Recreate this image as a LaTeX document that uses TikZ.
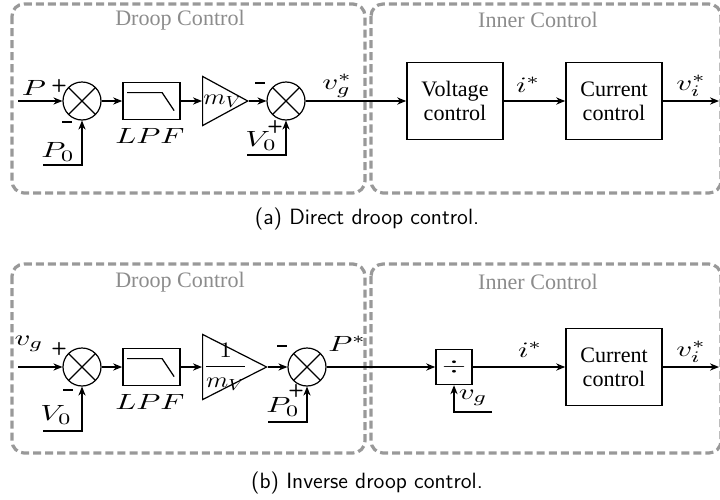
\documentclass[tikz,border=0pt]{standalone}
\usepackage{graphicx}
\usepackage[no-math]{fontspec}
\setmainfont{Liberation Serif}
\usetikzlibrary{shapes.geometric,arrows.meta}

\newcommand{\sgnminus}{\rule[0.32em]{0.5em}{0.13em}}
\newcommand{\wmath}[1]{\scalebox{1.4}[1.0]{$#1$}}
\newcommand{\gmath}[1]{\scalebox{1.15}[1.0]{$#1$}}

\tikzset{
  blk/.style={draw, thick, minimum width=1.68cm, minimum height=1.35cm, align=center, font=\fontsize{11}{12}\selectfont},
  lpf/.style={draw, thick, minimum width=1cm, minimum height=0.65cm},
  sumj/.style={draw, semithick, circle, minimum size=0.665cm, inner sep=0pt,
    path picture={\draw[semithick] (path picture bounding box.south west) -- (path picture bounding box.north east)
      (path picture bounding box.north west) -- (path picture bounding box.south east);}},
  gain/.style={draw, semithick, isosceles triangle, isosceles triangle stretches, inner sep=0pt, anchor=west},
  group/.style={draw=black!40, line width=1.6pt, dash pattern=on 4pt off 2pt, rounded corners=6pt},
  grouptitle/.style={text=black!45},
  sig/.style={semithick, -{Stealth[length=4.5pt,width=3.6pt]}},
  sgn/.style={font=\sffamily\bfseries\small, inner sep=0pt},
}

\begin{document}
\begin{tikzpicture}[x=0.0175cm, y=-0.0175cm, font=\fontsize{11}{13}\selectfont]
    \useasboundingbox (0,0) rectangle (720,499);

    % (a) direct droop
    \draw[group] (12,4) rectangle (365,193);
    \draw[group] (371,4) rectangle (721,193);
    \node[grouptitle] (ttlA1) at (180,20) {Droop Control};
    \node[grouptitle] (ttlA2) at (538,20) {Inner Control};

    \coordinate (inA) at (18,101);
    \node[sumj] (sumA) at (82,101) {};
    \draw[sig] (inA) -- (sumA);
    \node (lblP) at (34,88) {\wmath{P}};
    \node[sgn] (plusA1) at (59,86) {+};
    \node[sgn] (minA1) at (67,125) {\sgnminus};
    \coordinate (refA1) at (43,165);
    \draw[sig] (refA1) -| (sumA);
    \node (lblPA) at (58,152) {\wmath{P_0}};

    \node[lpf] (lpfA) at (151.5,101) {};
    \draw[semithick] ([shift={(5,11)}]lpfA.north west) -- ++(35,0) -- ++(12,18);
    \node (lblLA) at (150,136) {\wmath{LPF}};
    \draw[sig] (sumA) -- (lpfA);

    \node[gain, minimum width=0.86cm, minimum height=0.79cm] (gainA) at (202,101) {};
    \node[anchor=west, inner sep=0.5pt] (lblmA) at (gainA.west) {\gmath{m_V}};
    \draw[sig] (lpfA) -- (gainA);

    \node[sumj] (sumA2) at (286,101) {};
    \draw[sig] (gainA) -- (sumA2);
    \node[sgn] (minA2) at (260,86) {\sgnminus};
    \node[sgn] (plusA2) at (275,127) {+};
    \coordinate (refA2) at (247,155);
    \draw[sig] (refA2) -| (sumA2);
    \node (lblVA) at (261,141) {\wmath{V_0}};

    \node[blk] (vctrl) at (455,101) {Voltage\\control};
    \draw[sig] (sumA2) -- (vctrl);
    \node (lblvg) at (337,86) {\wmath{v_g^*}};
    \node[blk] (cctrlA) at (614,101) {Current\\control};
    \draw[sig] (vctrl) -- (cctrlA);
    \node (lbliA) at (528,85) {\wmath{i^*}};
    \coordinate (outA) at (719,101);
    \draw[sig] (cctrlA) -- (outA);
    \node (lblviA) at (691,86) {\wmath{v_i^*}};

    \node[font=\sffamily\fontsize{11}{13}\selectfont] (capA) at (367,219) {(a) Direct droop control.};

    % (b) inverse droop
    \draw[group] (12,264) rectangle (365,453);
    \draw[group] (371,264) rectangle (721,453);
    \node[grouptitle] (ttlB1) at (180,282) {Droop Control};
    \node[grouptitle] (ttlB2) at (538,282) {Inner Control};

    \coordinate (inB) at (18,367);
    \node[sumj] (sumB) at (82,367) {};
    \draw[sig] (inB) -- (sumB);
    \node (lblvgB) at (29,344) {\wmath{v_g}};
    \node[sgn] (plusB1) at (59,349) {+};
    \node[sgn] (minB1) at (68,393) {\sgnminus};
    \coordinate (refB1) at (43,431);
    \draw[sig] (refB1) -| (sumB);
    \node (lblVB) at (56,415) {\wmath{V_0}};

    \node[lpf] (lpfB) at (151.5,367) {};
    \draw[semithick] ([shift={(5,11)}]lpfB.north west) -- ++(35,0) -- ++(12,18);
    \node (lblLB) at (150,402) {\wmath{LPF}};
    \draw[sig] (sumB) -- (lpfB);

    \node[gain, minimum width=1.14cm, minimum height=1.12cm] (gainB) at (202,367) {};
    \node[anchor=west, inner sep=0.5pt] (lblmB) at (gainB.west) {\gmath{\displaystyle\frac{1}{m_V}}};
    \draw[sig] (lpfB) -- (gainB);

    \node[sumj] (sumB2) at (307,367) {};
    \draw[sig] (gainB) -- (sumB2);
    \node[sgn] (minB2) at (282,349) {\sgnminus};
    \node[sgn] (plusB2) at (296,391) {+};
    \coordinate (refB2) at (268,422);
    \draw[sig] (refB2) -| (sumB2);
    \node (lblPB) at (283,407) {\wmath{P_0}};
    \node (lblPs) at (347,344) {\wmath{P^*}};

    \node[draw, thick, minimum width=0.63cm, minimum height=0.61cm, inner sep=0pt] (divB) at (454,367) {\wmath{\div}};
    \draw[sig] (sumB2) -- (divB);
    \coordinate (vgB) at (492,412);
    \draw[sig] (vgB) -| (divB);
    \node (lblvgD) at (473,398) {\wmath{v_g}};

    \node[blk] (cctrlB) at (614,367) {Current\\control};
    \draw[sig] (divB) -- (cctrlB);
    \node (lbliB) at (530,350) {\wmath{i^*}};
    \coordinate (outB) at (719,367);
    \draw[sig] (cctrlB) -- (outB);
    \node (lblviB) at (691,352) {\wmath{v_i^*}};

    \node[font=\sffamily\fontsize{11}{13}\selectfont] (capB) at (367,483) {(b) Inverse droop control.};
\end{tikzpicture}
\end{document}
